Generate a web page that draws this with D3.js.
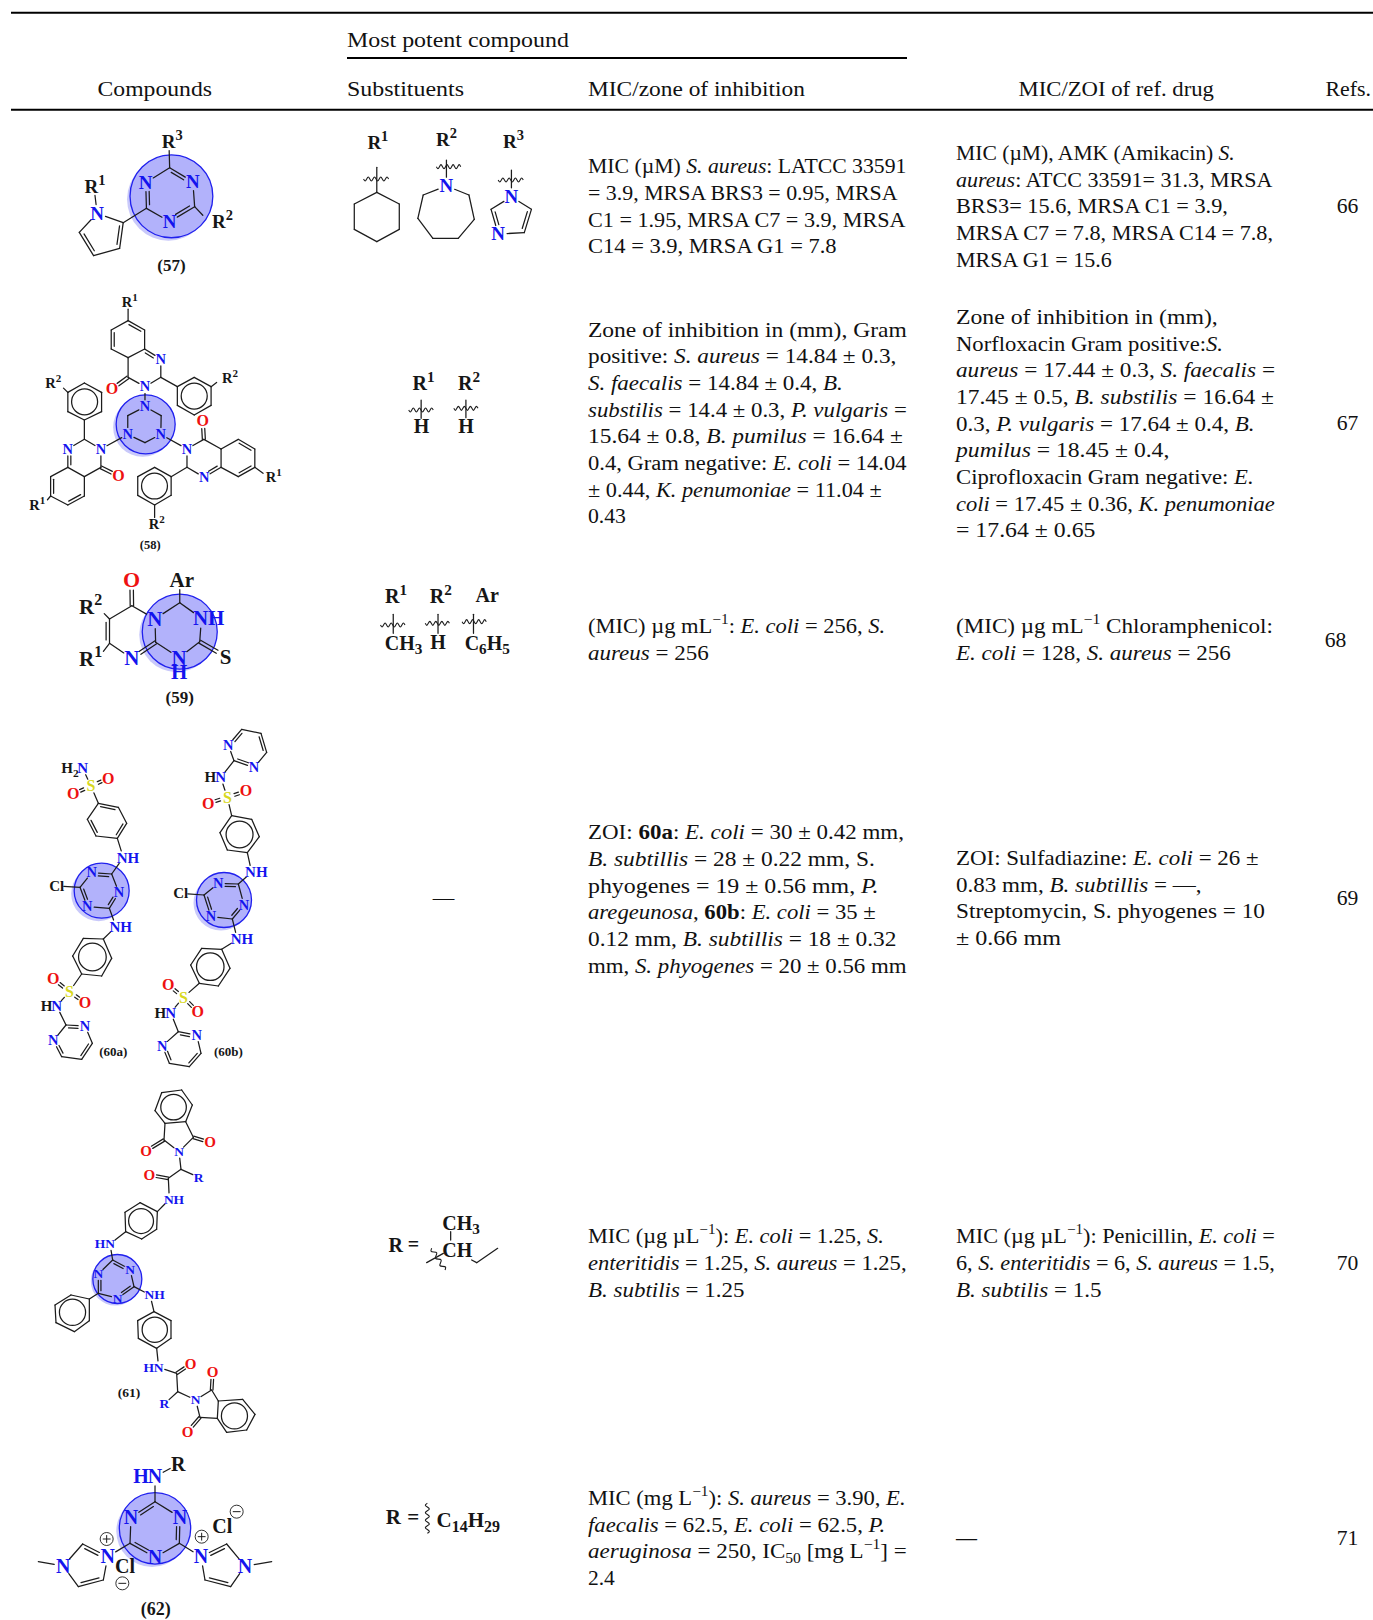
<!DOCTYPE html>
<html><head><meta charset="utf-8">
<script src="https://cdnjs.cloudflare.com/ajax/libs/d3/7.8.5/d3.min.js"></script>
<style>html,body{margin:0;background:#fff}svg{display:block}</style></head>
<body><svg id="c" width="1373" height="1620"></svg>
<script>
// ---------- table content ----------
const headers = ["Most potent compound","Compounds","Substituents","MIC/zone of inhibition","MIC/ZOI of ref. drug","Refs."];
const micLines = [
 ["MIC (µM) *S. aureus*: LATCC 33591","= 3.9, MRSA BRS3 = 0.95, MRSA","C1 = 1.95, MRSA C7 = 3.9, MRSA","C14 = 3.9, MRSA G1 = 7.8"],
 ["Zone of inhibition in (mm), Gram","positive: *S. aureus* = 14.84 ± 0.3,","*S. faecalis* = 14.84 ± 0.4, *B.*","*substilis* = 14.4 ± 0.3, *P. vulgaris* =","15.64 ± 0.8, *B. pumilus* = 16.64 ±","0.4, Gram negative: *E. coli* = 14.04","± 0.44, *K. penumoniae* = 11.04 ±","0.43"],
 ["(MIC) µg mL^−1^: *E. coli* = 256, *S.*","*aureus* = 256"],
 ["ZOI: **60a**: *E. coli* = 30 ± 0.42 mm,","*B. subtillis* = 28 ± 0.22 mm, S.","phyogenes = 19 ± 0.56 mm, *P.*","*aregeunosa*, **60b**: *E. coli* = 35 ±","0.12 mm, *B. subtillis* = 18 ± 0.32","mm, *S. phyogenes* = 20 ± 0.56 mm"],
 ["MIC (µg µL^−1^): *E. coli* = 1.25, *S.*","*enteritidis* = 1.25, *S. aureus* = 1.25,","*B. subtilis* = 1.25"],
 ["MIC (mg L^−1^): *S. aureus* = 3.90, *E.*","*faecalis* = 62.5, *E. coli* = 62.5, *P.*","*aeruginosa* = 250, IC~50~ [mg L^−1^] =","2.4"]
];
const refLines = [
 ["MIC (µM), AMK (Amikacin) *S.*","*aureus*: ATCC 33591= 31.3, MRSA","BRS3= 15.6, MRSA C1 = 3.9,","MRSA C7 = 7.8, MRSA C14 = 7.8,","MRSA G1 = 15.6"],
 ["Zone of inhibition in (mm),","Norfloxacin Gram positive:*S.*","*aureus* = 17.44 ± 0.3, *S. faecalis* =","17.45 ± 0.5, *B. substilis* = 16.64 ±","0.3, *P. vulgaris* = 17.64 ± 0.4, *B.*","*pumilus* = 18.45 ± 0.4,","Ciprofloxacin Gram negative: *E.*","*coli* = 17.45 ± 0.36, *K. penumoniae*","= 17.64 ± 0.65"],
 ["(MIC) µg mL^−1^ Chloramphenicol:","*E. coli* = 128, *S. aureus* = 256"],
 ["ZOI: Sulfadiazine: *E. coli* = 26 ±","0.83 mm, *B. subtillis* = —,","Streptomycin, S. phyogenes = 10","± 0.66 mm"],
 ["MIC (µg µL^−1^): Penicillin, *E. coli* =","6, *S. enteritidis* = 6, *S. aureus* = 1.5,","*B. subtilis* = 1.5"],
 ["—"]
];
const refNumbers = ["66","67","68","69","70","71"];

// ---------- layout (pixels of the page) ----------
const micY = [173.3,336.7,633.3,839.3,1243.3,1505];
const refY = [160,324,633.3,865,1243.3,1545];
const numY = [212.7,430,646.7,905,1270,1545];
const numX = [1347.5,1347.5,1335.5,1347.5,1347.5,1347.5];
const headerPos = [[347,47,569],[97.5,96,212],[347,96,464],[588,96,805],[1018.5,96,1214],[1325.5,96,1371]];
const micEnd = [[906.7,897.5,905.7,836.8],[906.7,896.5,843,906.7,903,906.7,882,626],[885.3,708.8],[904,875,878.7,876,896.5,906.7],[883.8,906.7,744.5],[905.7,885.3,906.7,614.9]];
const refEnd = [[1234.8,1272.6,1228,1273,1111.8],[1218,1223,1275,1274,1254.7,1169.5,1253.7,1275,1095.5],[1273,1230.7],[1258.8,1201.6,1265,1061],[1275,1275,1101.6],[977]];
const lineH = 26.65;
const BODY = '"Liberation Serif",serif', FS = 21.6;

const svg = d3.select('#c');
const palette = {k:'#161616',b:'#1414ee',r:'#ee1111',y:'#d8d820'};

function parts(s){
  const out=[], re=/\*\*(.+?)\*\*|\*(.+?)\*|\^(.+?)\^|~(.+?)~|([^*^~]+)/g; let m;
  while((m=re.exec(s))){
    if(m[1]) out.push({t:m[1],b:1}); else if(m[2]) out.push({t:m[2],i:1});
    else if(m[3]) out.push({t:m[3],sup:1}); else if(m[4]) out.push({t:m[4],sub:1});
    else out.push({t:m[5]});
  }
  return out;
}
function rich(sel,s,fs,k){
  let cur=0;
  sel.selectAll('tspan').data(parts(s)).join('tspan')
   .text(d=>d.t)
   .attr('font-style',d=>d.i?'italic':null)
   .attr('font-weight',d=>d.b?'bold':null)
   .attr('font-size',d=>(d.sup||d.sub)?fs*(k||0.68):null)
   .attr('dy',d=>{const t=d.sup?-fs*0.42:d.sub?fs*0.22:0;const dy=t-cur;cur=t;return dy;});
}
function textLine(x,y,s,anchor,end){
  const t=svg.append('text').attr('x',x).attr('y',y).attr('font-family',BODY).attr('font-size',FS)
    .attr('fill','#111').attr('text-anchor',anchor||'start');
  rich(t,s,FS);
  if(end){
    const k=(end-x)/t.node().getComputedTextLength();
    t.attr('transform',`translate(${x},0) scale(${k},1) translate(${-x},0)`);
  }
  return t;
}
// rules
const rules=[[11,1373,12.8,2],[347,907,58,2],[11,1373,109.7,2]];
svg.selectAll('line.rule').data(rules).join('line').attr('class','rule')
 .attr('x1',d=>d[0]).attr('x2',d=>d[1]).attr('y1',d=>d[2]).attr('y2',d=>d[2]).attr('stroke','#000').attr('stroke-width',d=>d[3]);
// headers
headerPos.forEach((p,i)=>textLine(p[0],p[1],headers[i],null,p[2]));
// body text
micLines.forEach((ls,r)=>ls.forEach((s,i)=>textLine(588,micY[r]+i*lineH,s,null,micEnd[r][i])));
refLines.forEach((ls,r)=>ls.forEach((s,i)=>textLine(956,refY[r]+i*lineH,s,null,refEnd[r][i])));
refNumbers.forEach((s,r)=>textLine(numX[r],numY[r],s,'middle'));
textLine(443.5,905,"—",'middle');

// ---------- structure drawing ----------
function mol(spec){
  const X=d3.scaleLinear().domain([0,1]).range([spec.o[0],spec.o[0]+1/spec.s[0]]);
  const Y=d3.scaleLinear().domain([0,1]).range([spec.o[1],spec.o[1]+1/spec.s[1]]);
  const g=svg.append('g'), A=spec.atoms, fs=spec.fs;
  const lw=spec.lw||1.25, col='#1c1c1c';
  if(spec.circle){
    const [cx,cy,r]=spec.circle, sh=spec.shadow||3;
    g.append('circle').attr('cx',X(cx)-sh).attr('cy',Y(cy)+sh).attr('r',r).attr('fill','#c9c9fa');
    g.append('circle').attr('cx',X(cx)).attr('cy',Y(cy)).attr('r',r).attr('fill','#b2b2fb').attr('stroke','#2020ee').attr('stroke-width',1.3);
  }
  const segs=[];
  const pos=k=>{const a=A[k]; if(!a) throw new Error('atom '+k); return [X(a[0]),Y(a[1])];};
  const trim=k=>{const a=A[k];return a[2]?(a[5]||fs)*0.44+0.5:0;};
  (spec.bonds||[]).forEach(ch=>{
    const toks=ch.match(/[A-Za-z0-9]+|[-=#]/g);
    for(let i=0;i+2<toks.length;i+=2){
      const a=toks[i],op=toks[i+1],b=toks[i+2];
      const p=pos(a),q=pos(b),dx=q[0]-p[0],dy=q[1]-p[1],L=Math.hypot(dx,dy),ux=dx/L,uy=dy/L;
      const ta=trim(a),tb=trim(b);
      const P=[p[0]+ux*ta,p[1]+uy*ta],Q=[q[0]-ux*tb,q[1]-uy*tb];
      const gap=spec.gap||3.2,nx=-uy,ny=ux;
      if(op==='#'){
        segs.push([P[0]+nx*gap/2,P[1]+ny*gap/2,Q[0]+nx*gap/2,Q[1]+ny*gap/2]);
        segs.push([P[0]-nx*gap/2,P[1]-ny*gap/2,Q[0]-nx*gap/2,Q[1]-ny*gap/2]);
      } else {
        segs.push([P[0],P[1],Q[0],Q[1]]);
        if(op==='='){
          const e=L*0.14, s0=ta?0:e, s1=tb?0:e;
          segs.push([P[0]+nx*gap+ux*s0,P[1]+ny*gap+uy*s0,Q[0]+nx*gap-ux*s1,Q[1]+ny*gap-uy*s1]);
        }
      }
    }
  });
  g.selectAll('line').data(segs).join('line')
   .attr('x1',d=>d[0]).attr('y1',d=>d[1]).attr('x2',d=>d[2]).attr('y2',d=>d[3])
   .attr('stroke',col).attr('stroke-width',lw).attr('stroke-linecap','round');
  (spec.arom||[]).forEach(r=>{
    const ks=r.split(' '),ps=ks.map(pos),c=[d3.mean(ps,d=>d[0]),d3.mean(ps,d=>d[1])],
      R=d3.mean(ps,d=>Math.hypot(d[0]-c[0],d[1]-c[1]));
    g.append('circle').attr('cx',c[0]).attr('cy',c[1]).attr('r',R*0.68).attr('fill','none').attr('stroke',col).attr('stroke-width',lw);
  });
  const ln=d3.line().curve(d3.curveBasis);
  (spec.waves||[]).forEach(w=>{
    const [x1,y1,x2,y2,n,amp]=w,p=[X(x1),Y(y1)],q=[X(x2),Y(y2)];
    const dx=q[0]-p[0],dy=q[1]-p[1],L=Math.hypot(dx,dy),nx=-dy/L,ny=dx/L,pts=[];
    const steps=n*4;
    for(let i=0;i<=steps;i++){const t=i/steps,o=[0,1,0,-1][i%4]*amp;pts.push([p[0]+dx*t+nx*o,p[1]+dy*t+ny*o]);}
    g.append('path').attr('d',ln(pts)).attr('fill','none').attr('stroke',col).attr('stroke-width',1.1);
  });
  (spec.plain||[]).forEach(c=>{
    g.append('circle').attr('cx',X(c[0])).attr('cy',Y(c[1])).attr('r',c[2]).attr('fill','none').attr('stroke',col).attr('stroke-width',0.9);
    g.append('line').attr('x1',X(c[0])-c[2]*.6).attr('x2',X(c[0])+c[2]*.6).attr('y1',Y(c[1])).attr('y2',Y(c[1])).attr('stroke',col);
    if(c[3]) g.append('line').attr('x1',X(c[0])).attr('x2',X(c[0])).attr('y1',Y(c[1])-c[2]*.6).attr('y2',Y(c[1])+c[2]*.6).attr('stroke',col);
  });
  Object.values(A).filter(a=>a[2]).forEach(a=>{
    const size=a[5]||fs;
    const t=g.append('text').attr('x',X(a[0]+(a[4]||0))).attr('y',Y(a[1])+size*0.33)
      .attr('text-anchor','middle').attr('font-family','"Liberation Serif",serif').attr('font-weight','bold')
      .attr('font-size',size).attr('fill',palette[a[3]||'k']);
    rich(t,a[2],size,0.76);
  });
}

const Z1={o:[0,0],s:[2.8,3]}, Z2={o:[0,285],s:[2.904,3]}, Z3={o:[30,720],s:[3,3]}, Z4={o:[30,1080],s:[3,3]}, Z5={o:[20,1440],s:[3,3]};

// (57)
mol({...Z1,fs:19,circle:[480,589,41.4],atoms:{
 t1:[475,503],t2:[540,545,'N','b'],t3:[545,620],t4:[475,665,'N','b'],t5:[410,625],t6:[408,548,'N','b'],
 R3:[473,425,'R^3^','k',9],R2:[585,665,'R^2^','k',38],p1:[272,640,'N','b'],p2:[345,668],p3:[335,745],p4:[262,767],p5:[222,697],
 R1:[263,560,'R^1^','k',3],l:[480,796,'(57)','k',0,17]},
 bonds:["t1=t2-t3=t4-t5=t6-t1","p1-p2=p3-p4=p5-p1","t1-R3","t3-R2","p2-t5","p1-R1"]});
// substituents of (57)
mol({...Z1,fs:19,atoms:{
 r1:[1058,428,'R^1^'],r2:[1250,420,'R^2^'],r3:[1438,425,'R^3^'],
 a0:[1055,502],a1:[1055,577],a2:[1118,612],a3:[1118,688],a4:[1055,725],a5:[992,688],a6:[992,612],
 b0:[1250,480],n:[1250,558,'N','b'],b2:[1313,585],b3:[1328,658],b4:[1283,715],b5:[1212,715],b6:[1170,655],b7:[1185,585],
 c0:[1432,510],m:[1432,590,'N','b'],c2:[1488,628],c3:[1468,698],c4:[1395,702,'N','b'],c5:[1375,628]},
 bonds:["a0-a1-a2-a3-a4-a5-a6-a1","b0-n-b2-b3-b4-b5-b6-b7-n","c0-m-c2=c3-c4=c5-m"],
 waves:[[1018,537,1088,537,4,3],[1222,500,1290,500,4,3],[1395,540,1465,540,4,3]]});

// (58)
mol({...Z2,fs:14.5,gap:3,shadow:3,circle:[423,418,29.5],atoms:{
 c1:[421,365,'N','b'],c2:[468,392],c3:[467,448,'N','b'],c4:[421,473],c5:[371,448,'N','b'],c6:[371,392],
 a3:[421,305,'N','b'],a4:[372,277],aO:[325,312,'O','r',0,16],a4a:[372,218],a5:[323,192],a6:[323,135],a7:[372,107],a8:[420,135],a8a:[420,192],a1:[467,222,'N','b'],a2:[467,277],
 ap1:[515,305],ap2:[564,277],ap3:[613,305],ap4:[613,361],ap5:[564,390],ap6:[515,361],
 aR1:[372,52,'R^1^','k',5],aR2:[645,280,'R^2^','k',23],
 b3:[293,492,'N','b'],b2:[245,463],b1:[197,492,'N','b'],b8a:[197,547],b4a:[245,575],b4:[293,547],bO:[344,573,'O','r',0,16],
 b5:[245,633],b6:[197,660],b7:[147,633],b8:[147,575],
 bp1:[245,405],bp2:[197,380],bp3:[197,322],bp4:[245,294],bp5:[295,322],bp6:[295,380],
 bR2:[170,295,'R^2^','k',-15],bR1:[125,660,'R^1^','k',-17],
 d3:[543,492,'N','b'],d4:[592,463],dO:[589,408,'O','r',0,16],d4a:[642,492],d8a:[642,547],d1:[593,577,'N','b'],d2:[543,547],
 d5:[692,463],d6:[740,492],d7:[740,547],d8:[692,575],dR1:[780,577,'R^1^','k',15],
 dp1:[497,575],dp2:[449,547],dp3:[400,575],dp4:[400,631],dp5:[449,660],dp6:[497,631],dR2:[449,718,'R^2^','k',6],
 l:[436,780,'(58)','k',0,12.5]},
 bonds:["c1-c2-c3-c4-c5-c6-c1","a3-a4-a4a-a8a=a1-a2-a3","a4a-a5=a6-a7=a8-a8a","a4#aO","a3-c1","a2-ap1-ap2-ap3-ap4-ap5-ap6-ap1","a7-aR1","ap3-aR2",
  "b2-b3-b4-b4a-b8a=b1-b2","b4a-b5=b6-b7=b8-b8a","b4#bO","b3-c5","b2-bp1-bp2-bp3-bp4-bp5-bp6-bp1","bp3-bR2","b7-bR1",
  "d4-d4a-d8a=d1-d2-d3-d4","d4a-d5=d6-d7=d8-d8a","d4#dO","d3-c3","d2-dp1-dp2-dp3-dp4-dp5-dp6-dp1","d7-dR1","dp5-dR2"],
 arom:["ap1 ap2 ap3 ap4 ap5 ap6","bp1 bp2 bp3 bp4 bp5 bp6","dp1 dp2 dp3 dp4 dp5 dp6"]});
// substituents of (58)
mol({...Z2,fs:20,atoms:{r1:[1230,295,'R^1^'],r2:[1362,295,'R^2^'],h1:[1224,425,'H'],h2:[1353,425,'H'],
 a:[1223,345],b:[1223,400],c:[1353,345],d:[1353,398]},bonds:["a-b","c-d"],
 waves:[[1187,375,1258,375,4,3],[1318,370,1388,370,4,3]]});

// (59)
mol({...Z2,fs:21,circle:[522,1040,37.5],atoms:{
 a:[522,953],nh:[585,1000,'NH','b',21],c:[580,1070],n:[520,1118,'N','b'],h:[520,1162,'H','b'],d:[452,1072],e:[450,1002,'N','b'],
 f:[383,962],o:[382,885,'O','r',0,22],g:[318,1002],i:[318,1075],j:[383,1120,'N','b'],
 R2:[283,965,'R^2^','k',-20],R1:[283,1122,'R^1^','k',-20],Ar:[522,885,'Ar','k',6],s:[655,1115,'S'],l:[522,1238,'(59)','k',0,17]},
 bonds:["a-nh-c-n-d-e-a","e-f-g=i-j","j#d","f#o","g-R2","i-R1","a-Ar","c#s"],gap:3.4});
mol({...Z2,fs:20,atoms:{r1:[1150,935,'R^1^'],r2:[1280,935,'R^2^'],ar:[1415,932,'Ar'],
 c:[1172,1075,'CH~3~'],h:[1272,1072,'H'],p:[1415,1075,'C~6~H~5~'],
 a:[1142,988],b:[1142,1045],d:[1272,988],e:[1272,1045],f:[1375,988],j:[1375,1045]},bonds:["a-b","d-e","f-j"],
 waves:[[1105,1020,1176,1020,4,3],[1235,1015,1305,1015,4,3],[1342,1010,1412,1010,4,3]]});

// (60a)
const m60=14.5;
mol({...Z3,fs:m60,gap:2.8,circle:[215,512,27.5],atoms:{
 a:[245,462],b:[267,518,'N','b'],c:[238,565],d:[172,560,'N','b'],e:[150,502],f:[185,458,'N','b'],
 cl:[80,498,'Cl','k',0,15],n1:[280,413,'NH','b',14,15],n2:[258,620,'NH','b',14,15],
 u1:[205,250],u2:[265,262],u3:[290,310],u4:[262,355],u5:[198,348],u6:[172,298],
 s:[183,198,'S','y',0,16],o1:[235,175,'O','r',0,16],o2:[130,222,'O','r',0,16],n3:[158,145,'N','b',0,15],h3:[120,145,'H~2~','k',0,15],
 l1:[220,657],l2:[245,715],l3:[215,768],l4:[155,762],l5:[128,708],l6:[160,655],
 s2:[118,815,'S','y',0,16],o3:[70,777,'O','r',0,16],o4:[165,848,'O','r',0,16],n4:[80,858,'N','b',0,15],h4:[50,858,'H','k',0,15],
 p1:[108,915],p2:[165,918,'N','b'],p3:[187,970],p4:[155,1018],p5:[95,1010],p6:[70,962,'N','b'],
 t:[250,996,'(60a)','k',0,13]},
 bonds:["f=a-b=c-d=e-f","a-n1","c-n2","e-cl","u1=u2-u3=u4-u5=u6-u1","u4-n1","u1-s","s#o1","s#o2","s-n3",
  "n2-l1-l2-l3-l4-l5-l6-l1","l4-s2","s2#o3","s2#o4","s2-n4","n4-p1=p2-p3=p4-p5=p6-p1"],
 arom:["l1 l2 l3 l4 l5 l6"]});
// (60b)
mol({...Z3,fs:m60,gap:2.8,circle:[582,540,27.5],atoms:{
 a:[625,492],b:[642,555,'N','b'],c:[607,597],d:[543,590,'N','b'],e:[522,525],f:[565,490,'N','b'],
 cl:[452,520,'Cl','k',0,15],n1:[665,457,'NH','b',14,15],n2:[622,658,'NH','b',14,15],
 u1:[605,287],u2:[665,298],u3:[688,350],u4:[652,398],u5:[592,390],u6:[570,338],
 s:[592,232,'S','y',0,16],o1:[648,213,'O','r',0,16],o2:[535,250,'O','r',0,16],n3:[572,172,'N','b',0,15],h3:[541,172,'H','k',0,15],
 t1:[612,122],t2:[595,75,'N','b'],t3:[635,28],t4:[693,40],t5:[710,97],t6:[672,143,'N','b'],
 l1:[575,688],l2:[600,745],l3:[565,798],l4:[508,790],l5:[482,735],l6:[515,685],
 s2:[460,832,'S','y',0,16],o3:[415,795,'O','r',0,16],o4:[503,875,'O','r',0,16],n4:[422,878,'N','b',0,15],h4:[391,878,'H','k',0,15],
 p1:[445,935],p2:[500,945,'N','b'],p3:[513,1000],p4:[478,1040],p5:[418,1030],p6:[397,978,'N','b'],
 x:[595,995,'(60b)','k',0,13]},
 bonds:["f=a-b=c-d=e-f","a-n1","c-n2","e-cl","u1-u2-u3-u4-u5-u6-u1","u4-n1","u1-s","s#o1","s#o2","s-n3","n3-t1","t2=t3-t4=t5-t6=t1-t2",
  "n2-l1-l2-l3-l4-l5-l6-l1","l4-s2","s2#o3","s2#o4","s2-n4","n4-p1=p2-p3=p4-p5=p6-p1"],
 arom:["u1 u2 u3 u4 u5 u6","l1 l2 l3 l4 l5 l6"]});

// (61)
mol({...Z4,fs:13.5,gap:2.6,circle:[262,597,24.5],shadow:2,atoms:{
 a:[248,540],b:[300,568,'N','b'],c:[312,620],d:[263,655,'N','b'],e:[205,640],f:[205,582,'N','b'],
 n1:[240,492,'N','b'],h1:[210,492,'H','b'],n2:[360,645,'NH','b',14],
 g1:[178,657],g2:[178,722],g3:[133,755],g4:[78,728],g5:[75,675],g6:[123,645],
 u1:[382,395],u2:[380,448],u3:[335,477],u4:[287,455],u5:[285,397],u6:[330,368],
 n3:[418,358,'NH','b',14],k:[415,295],o1:[358,285,'O','r',0,15],ch:[453,268],r:[506,292,'R','b'],n4:[447,215,'N','b'],
 c1:[402,180],c2:[490,172],o2:[348,213,'O','r',0,15],o3:[540,187,'O','r',0,15],
 w1:[405,130],w2:[375,92],w3:[395,38],w4:[455,30],w5:[487,75],w6:[467,125],
 v1:[372,695],v2:[423,722],v3:[423,775],v4:[380,805],v5:[325,775],v6:[323,722],
 n5:[386,862,'N','b'],h5:[356,862,'H','b'],k2:[440,880],o4:[482,852,'O','r',0,15],ch2:[443,935],r2:[403,972,'R','b'],n6:[497,960,'N','b'],
 c3:[545,930],c4:[510,1012],o5:[548,877,'O','r',0,15],o6:[473,1055,'O','r',0,15],
 x1:[565,963],x2:[638,958],x3:[675,1003],x4:[650,1050],x5:[590,1057],x6:[562,1015],
 t:[297,938,'(61)','k',0,13.5]},
 bonds:["a=b-c=d-e=f-a","a-n1","c-n2","e-g1-g2-g3-g4-g5-g6-g1","n1-u4-u3-u2-u1-u6-u5-u4","u1-n3","n3-k","k#o1","k-ch-r","ch-n4","n4-c1-w1-w6-c2-n4","c1#o2","c2#o3",
  "w1-w2-w3-w4-w5-w6","n2-v1-v2-v3-v4-v5-v6-v1","v4-n5","n5-k2","k2#o4","k2-ch2-r2","ch2-n6","n6-c3-x1-x6-c4-n6","c3#o5","c4#o6","x1-x2-x3-x4-x5-x6"],
 arom:["g1 g2 g3 g4 g5 g6","u1 u2 u3 u4 u5 u6","w1 w2 w3 w4 w5 w6","v1 v2 v3 v4 v5 v6","x1 x2 x3 x4 x5 x6"]});
mol({...Z4,fs:20,atoms:{r:[1097,495,'R'],eq:[1150,493,'='],c:[1293,430,'CH~3~'],h:[1282,510,'CH'],
 a:[1262,455],b:[1262,480],d:[1190,548],e:[1240,520],f:[1325,540],i:[1340,548],j:[1403,505]},bonds:["a-b","d-e","f-i-j"],
 waves:[[1205,505,1245,570,3,3]]});

// (62)
mol({...Z5,fs:20,gap:3.2,circle:[405,265,35.7],atoms:{
 a:[405,185],b:[480,232,'N','b'],c:[478,310],d:[405,352,'N','b'],e:[330,310],f:[333,232,'N','b'],
 n:[405,110,'N','b'],h:[363,110,'H','b'],r:[475,72,'R'],
 l1:[263,350,'N','b'],l2:[188,312],l3:[130,378,'N','b'],l4:[175,440],l5:[250,420],m1:[55,365],
 q1:[543,350,'N','b'],q2:[620,312],q3:[675,378,'N','b'],q4:[632,440],q5:[555,420],m2:[755,365],
 cl1:[315,380,'Cl'],cl2:[607,260,'Cl'],t:[407,508,'(62)','k',0,18]},
 bonds:["f=a-b=c-d=e-f","a-n","n-r","e-l1","c-q1","l3-l2=l1-l5=l4-l3","l3-m1","q1=q2-q3-q4=q5-q1","q3-m2"],
 plain:[[260,297,6.5,1],[545,290,6.5,1],[307,430,6.5,0],[650,215,6.5,0]]});
mol({...Z5,fs:21,atoms:{r:[1120,232,'R'],eq:[1180,230,'='],c:[1345,240,'C~14~H~29~']},
 waves:[[1222,190,1222,280,4,3]]});
</script></body></html>
